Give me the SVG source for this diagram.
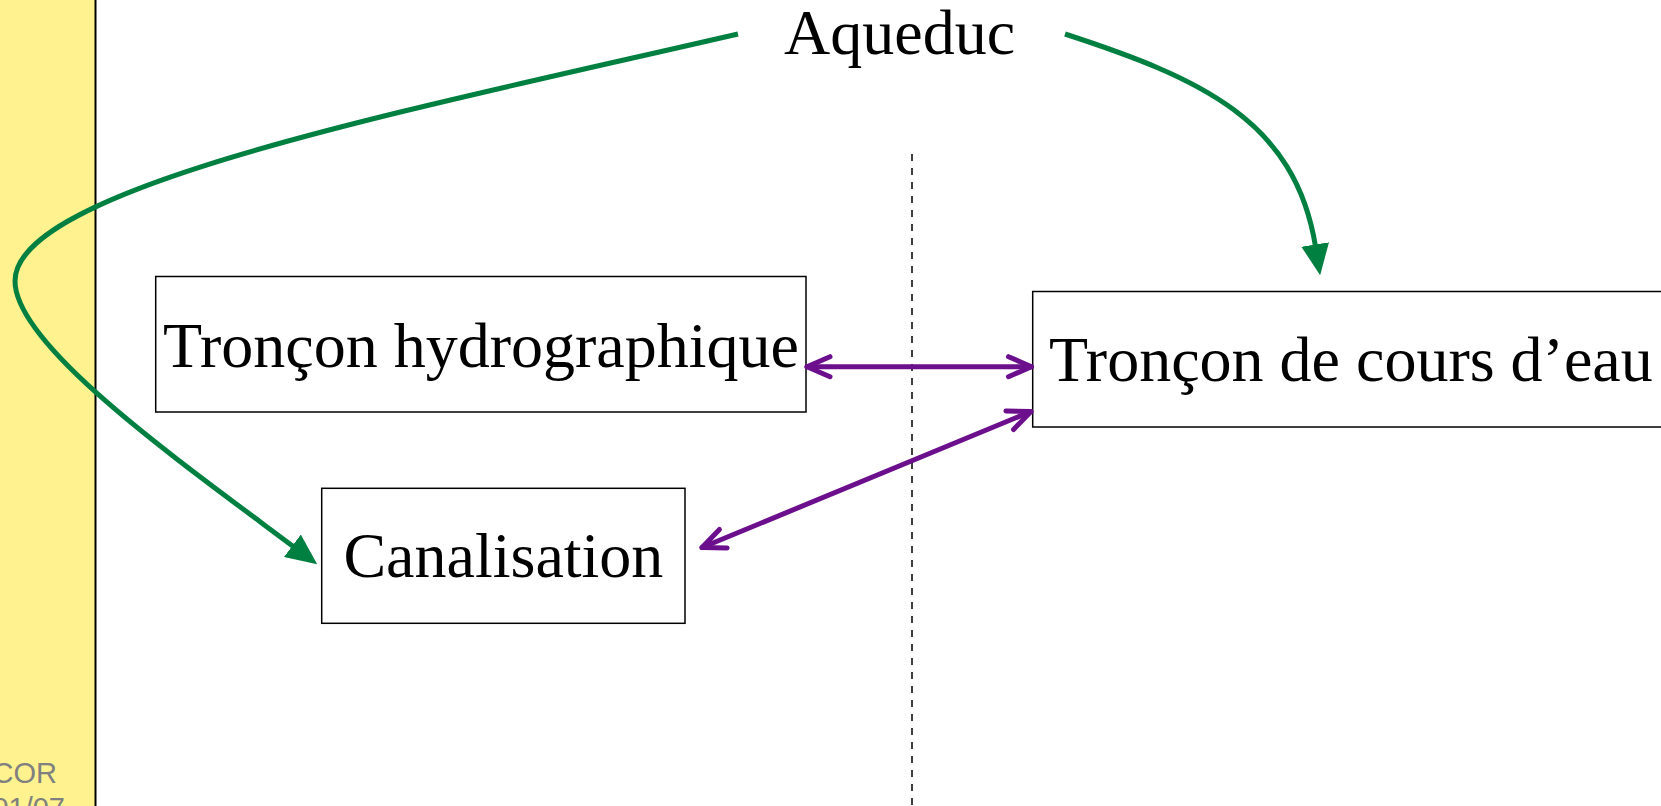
<svg xmlns="http://www.w3.org/2000/svg" width="1661" height="806" viewBox="0 0 1661 806">
<style>
.lbl{font-family:"Liberation Serif","Times New Roman",serif;font-size:64px;fill:#000}
.box{fill:#fff;stroke:#000;stroke-width:1.5}
.green{fill:none;stroke:#008040;stroke-width:5}
.purple{fill:none;stroke:#6C0F8C;stroke-width:5;stroke-linecap:round}
.foot{font-family:"Liberation Sans",Arial,sans-serif;font-size:29px;fill:#808080}
</style>
<defs>
<marker id="tri" markerUnits="userSpaceOnUse" viewBox="-2 -16 33 32" refX="0" refY="0" markerWidth="33" markerHeight="32" orient="auto">
<path d="M-2,-14 L29,0 L-2,14 Z" fill="#008040"/>
</marker>
<marker id="chev" markerUnits="userSpaceOnUse" viewBox="-30 -15 34 30" refX="0" refY="0" markerWidth="34" markerHeight="30" orient="auto-start-reverse">
<path d="M-23,-10 L0,0 L-23,10" fill="none" stroke="#6C0F8C" stroke-width="5" stroke-linecap="round" stroke-linejoin="round"/>
</marker>
</defs>
<rect x="0" y="0" width="1661" height="806" fill="#fff"/>
<rect x="0" y="0" width="95" height="806" fill="#FFF28F"/>
<line x1="95.5" y1="0" x2="95.5" y2="806" stroke="#000" stroke-width="2"/>
<text class="foot" x="57" y="783" text-anchor="end">COR</text>
<text class="foot" x="65" y="818" text-anchor="end">01/07</text>
<line x1="912" y1="154" x2="912" y2="806" stroke="#000" stroke-width="1.5" stroke-dasharray="7,7"/>
<g id="aqueduc"><text class="lbl" x="784" y="54">Aqueduc</text></g>
<g id="troncon-hydro">
<rect class="box" x="155.7" y="276.5" width="650.3" height="135.5"/>
<text class="lbl" x="481" y="367" text-anchor="middle">Tronçon hydrographique</text>
</g>
<g id="troncon-cours">
<rect class="box" x="1032.7" y="291.5" width="640" height="135.5"/>
<text class="lbl" x="1049" y="381">Tronçon de cours d’eau</text>
</g>
<g id="canalisation">
<rect class="box" x="321.7" y="488.3" width="363.3" height="135"/>
<text class="lbl" x="503.4" y="577" text-anchor="middle">Canalisation</text>
</g>
<g id="connectors">
<path class="green" d="M738,34 C400,112 15,188 15,281 C15,345 175,458 294,547" marker-end="url(#tri)"/>
<path class="green" d="M1065,34 C1200,78 1295,120 1315.5,246.5" marker-end="url(#tri)"/>
<path class="purple" d="M807,366.7 L1031.5,366.7" marker-start="url(#chev)" marker-end="url(#chev)"/>
<path class="purple" d="M702,547.5 L1031,411.5" marker-start="url(#chev)" marker-end="url(#chev)"/>
</g>
</svg>
